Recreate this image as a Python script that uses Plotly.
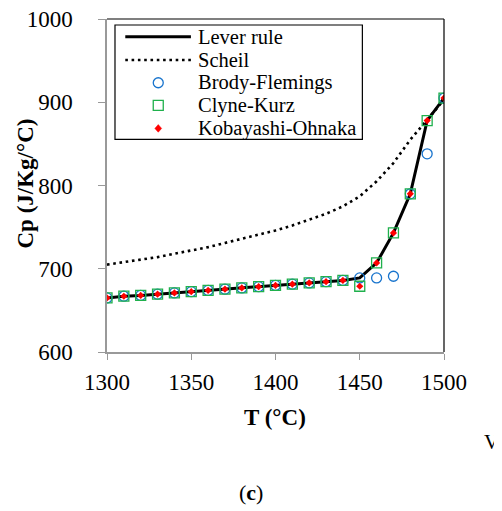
import plotly.graph_objects as go

T = [1300, 1310, 1320, 1330, 1340, 1350, 1360, 1370, 1380, 1390, 1400,
     1410, 1420, 1430, 1440, 1450, 1460, 1470, 1480, 1490, 1500]

lever = [665, 667, 668, 669.5, 671, 672.5, 674, 675.5, 677, 678.5, 680,
         681.5, 683, 684.5, 686, 689, 707, 743, 790, 878, 905]
scheil = [705, 708, 711, 714, 718, 722, 726, 731, 736, 741, 746,
          752, 759, 766, 775, 787, 805, 827, 855, 879, 903]
brody = [665, 667, 668, 669.5, 671, 672.5, 674, 675.5, 677, 678.5, 680,
         681.5, 683, 684.5, 686, 689, 689, 691, 790, 838, 905]
clyne = [665, 667, 668, 669.5, 671, 672.5, 674, 675.5, 677, 678.5, 680,
         681.5, 683, 684.5, 686, 679, 707, 743, 790, 878, 905]
kobayashi = [665, 667, 668, 669.5, 671, 672.5, 674, 675.5, 677, 678.5, 680,
             681.5, 683, 684.5, 686, 679, 707, 743, 790, 878, 905]

series_names = ["Lever rule", "Scheil", "Brody-Flemings", "Clyne-Kurz", "Kobayashi-Ohnaka"]

x_ticks = [1300, 1350, 1400, 1450, 1500]
y_ticks = [600, 700, 800, 900, 1000]

FONT = "Liberation Serif"
BLUE = "#1874cd"
GREEN = "#1fb04c"
RED = "#ff0000"

PL, PR, PT, PB = 106.7, 444.0, 19.0, 351.7
def px(x):
    return (x - PL) / (PR - PL)
def py(y):
    return (PB - y) / (PB - PT)

fig = go.Figure()
fig.add_trace(go.Scatter(x=T, y=scheil, mode="lines", name=series_names[1],
                         line=dict(color="black", width=2.6, dash="2.6px,3.7px")))
fig.add_trace(go.Scatter(x=T, y=lever, mode="lines", name=series_names[0],
                         line=dict(color="black", width=3)))
fig.add_trace(go.Scatter(x=T, y=brody, mode="markers", name=series_names[2],
                         marker=dict(symbol="circle-open", size=10, color=BLUE,
                                     line=dict(width=1.3, color=BLUE))))
fig.add_trace(go.Scatter(x=T, y=clyne, mode="markers", name=series_names[3],
                         marker=dict(symbol="square-open", size=10, color=GREEN,
                                     line=dict(width=1.3, color=GREEN))))
fig.add_trace(go.Scatter(x=T, y=kobayashi, mode="markers", name=series_names[4],
                         marker=dict(symbol="diamond", size=5.5, color=RED)))

rows = [36.7, 60.0, 82.7, 105.3, 128.3]
shapes = [
    dict(type="line", xref="paper", yref="paper", x0=0, x1=1, y0=1, y1=1,
         line=dict(color="black", width=1.2)),
    dict(type="line", xref="paper", yref="paper", x0=1, x1=1, y0=0, y1=1,
         line=dict(color="black", width=1.2)),
    dict(type="rect", xref="paper", yref="paper", x0=px(114.7), x1=px(362.3),
         y0=py(139.3), y1=py(25), line=dict(color="black", width=1.2), fillcolor="white",
         layer="above"),
    dict(type="line", xref="paper", yref="paper", x0=px(125), x1=px(190.7),
         y0=py(rows[0]), y1=py(rows[0]), line=dict(color="black", width=3), layer="above"),
    dict(type="line", xref="paper", yref="paper", x0=px(125), x1=px(190.7),
         y0=py(rows[1]), y1=py(rows[1]),
         line=dict(color="black", width=2.6, dash="2.6px,3.7px"), layer="above"),
    dict(type="circle", xref="paper", yref="paper", xsizemode="pixel", ysizemode="pixel",
         xanchor=px(158), yanchor=py(rows[2]), x0=-5, x1=5, y0=-5, y1=5,
         line=dict(color=BLUE, width=1.3), layer="above"),
    dict(type="rect", xref="paper", yref="paper", xsizemode="pixel", ysizemode="pixel",
         xanchor=px(158), yanchor=py(rows[3]), x0=-5, x1=5, y0=-5, y1=5,
         line=dict(color=GREEN, width=1.3), layer="above"),
    dict(type="path", xref="paper", yref="paper", xsizemode="pixel", ysizemode="pixel",
         xanchor=px(158), yanchor=py(rows[4]), path="M 0 -3.8 L 3.4 0 L 0 3.8 L -3.4 0 Z",
         line=dict(color=RED, width=0.5), fillcolor=RED, layer="above"),
]

annotations = []
for name, r in zip(series_names, rows):
    annotations.append(dict(text=name, xref="paper", yref="paper", x=px(195.5), y=py(r),
                            xanchor="left", yanchor="middle", showarrow=False,
                            font=dict(family=FONT, size=20.5, color="black")))

annotations += [
    dict(text="<b>T (°C)</b>", xref="paper", yref="paper", x=px(275), y=py(417),
         xanchor="center", yanchor="middle", showarrow=False,
         font=dict(family=FONT, size=23)),
    dict(text="<b>Cp (J/Kg/°C)</b>", xref="paper", yref="paper", x=px(25), y=py(183),
         xanchor="center", yanchor="middle", showarrow=False, textangle=-90,
         font=dict(family=FONT, size=23)),
    dict(text="V", xref="paper", yref="paper", x=px(492), y=py(442),
         xanchor="center", yanchor="middle", showarrow=False,
         font=dict(family=FONT, size=21)),
    dict(text="(<b>c</b>)", xref="paper", yref="paper", x=px(251), y=py(492),
         xanchor="center", yanchor="middle", showarrow=False,
         font=dict(family=FONT, size=22)),
]

OFF = 8
W, H = 502 - OFF, 511 - OFF

fig.update_layout(
    template="none",
    width=W, height=H,
    margin=dict(l=PL - OFF, r=W - (PR - OFF), t=PT - OFF, b=H - (PB - OFF), pad=0,
                autoexpand=False),
    paper_bgcolor="white", plot_bgcolor="white",
    font=dict(family=FONT, color="black", size=23),
    showlegend=False,
    xaxis=dict(range=[1300, 1500], tickvals=x_ticks, ticktext=[str(v) for v in x_ticks],
               showgrid=False, zeroline=False, showline=True, linecolor="#999999",
               linewidth=1.5, ticks="outside", ticklen=6, tickcolor="#999999",
               tickwidth=1.3, automargin=False, ticklabeloverflow="allow",
               tickfont=dict(family=FONT, size=23, color="black"), ticklabelstandoff=3),
    yaxis=dict(range=[600, 1000], tickvals=y_ticks, ticktext=[str(v) for v in y_ticks],
               showgrid=False, zeroline=False, showline=True, linecolor="#999999",
               linewidth=1.5, ticks="outside", ticklen=7, tickcolor="#999999",
               tickwidth=1.3, automargin=False, ticklabeloverflow="allow",
               tickfont=dict(family=FONT, size=23, color="black"), ticklabelstandoff=21),
    shapes=shapes,
    annotations=annotations,
)

fig.write_html("out.html")
